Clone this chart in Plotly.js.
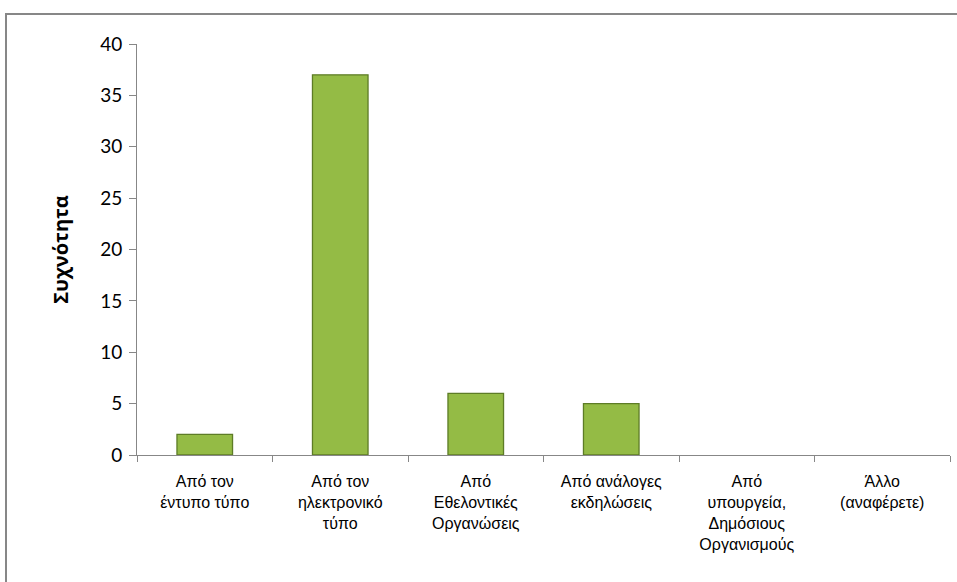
<!DOCTYPE html>
<html>
<head>
<meta charset="utf-8">
<script src="https://cdn.plot.ly/plotly-3.0.1.min.js"></script>
<style>
html,body{margin:0;padding:0;background:#fff;}
#wrap{position:relative;width:957px;height:582px;overflow:hidden;}
#frame{position:absolute;left:5px;top:13px;width:1000px;height:700px;border-left:2px solid #878787;border-top:2px solid #878787;box-sizing:border-box;pointer-events:none;}
#chart{position:absolute;left:0;top:0;width:957px;height:582px;}
</style>
</head>
<body>
<div id="wrap">
<div id="chart"></div>
<div id="frame"></div>
</div>
<script>
const categories = [
  "Από τον<br>έντυπο τύπο",
  "Από τον<br>ηλεκτρονικό<br>τύπο",
  "Από<br>Εθελοντικές<br>Οργανώσεις",
  "Από ανάλογες<br>εκδηλώσεις",
  "Από<br>υπουργεία,<br>Δημόσιους<br>Οργανισμούς",
  "Άλλο<br>(αναφέρετε)"
];
const frequencies = [2, 37, 6, 5, 0, 0];
const yTickValues = [0, 5, 10, 15, 20, 25, 30, 35, 40];
const yAxisTitle = "Συχνότητα";

const trace = {
  type: "bar",
  x: categories,
  y: frequencies,
  marker: {
    color: "#94bb45",
    line: {color: "#5d7c26", width: frequencies.map(v => v > 0 ? 1.3 : 0)}
  },
  hoverinfo: "none"
};

const layout = {
  width: 957, height: 582,
  margin: {l: 137, r: 7, t: 44, b: 127},
  paper_bgcolor: "#ffffff",
  plot_bgcolor: "#ffffff",
  bargap: 0.59,
  showlegend: false,
  xaxis: {
    showline: true, linecolor: "#878787", linewidth: 1,
    ticks: "outside", tickson: "boundaries", ticklen: 6, tickcolor: "#878787",
    tickfont: {family: "Liberation Sans, Arial", size: 16, color: "#000"},
    ticklabelstandoff: 12,
    tickangle: 0,
    showgrid: false, zeroline: false,
    automargin: false
  },
  yaxis: {
    range: [0, 40],
    tickvals: yTickValues,
    showline: true, linecolor: "#878787", linewidth: 1,
    ticks: "outside", ticklen: 7, tickcolor: "#878787",
    tickfont: {family: "Lato, Open Sans, sans-serif", size: 19, color: "#000"},
    ticklabelstandoff: 3,
    showgrid: false, zeroline: false,
    title: {text: yAxisTitle, font: {family: "Open Sans, DejaVu Sans", size: 20, color: "#000", weight: "bold"}, standoff: 26},
    automargin: false
  }
};

Plotly.newPlot("chart", [trace], layout, {displayModeBar: false, staticPlot: true});
</script>
</body>
</html>
